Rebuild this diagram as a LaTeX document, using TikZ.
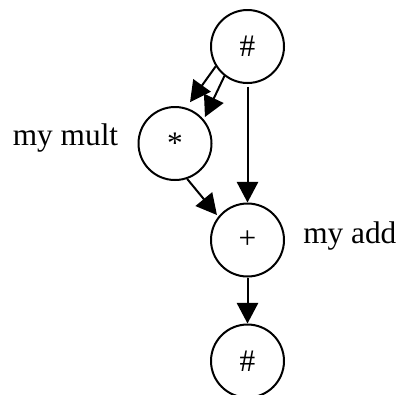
\documentclass[tikz,border=0pt]{standalone}
\usepackage{fontspec}
\setmainfont{Liberation Serif}
\usetikzlibrary{arrows.meta,calc}
\tikzset{
  opnode/.style={circle, draw, line width=1.5pt, minimum size=54.75pt, inner sep=0pt,
    font=\fontsize{23.5}{28}\selectfont},
  lbl/.style={font=\fontsize{23.5}{28}\selectfont, inner sep=0pt},
  edge/.style={line width=1.5pt, -{Triangle[length=15.5pt,width=16pt]}}
}
\begin{document}
\begin{tikzpicture}[x=0.75pt,y=-0.75pt]
  \clip (0,0) rectangle (399,394);
  \useasboundingbox (0,0) rectangle (399,394);
  % operator nodes
  \node[opnode] (top) at (247.5,46.5) {\#};
  \node[opnode] (mul) at (175,143.5) {*};
  \node[opnode] (add) at (247.5,240) {+};
  \node[opnode] (bot) at (247.5,361) {\#};
  % labels
  \node[lbl, anchor=base] (lmul) at (65.5,145) {my mult};
  \node[lbl, anchor=base west] (ladd) at (303,243) {my add};
  % edges
  \draw[edge] (top.212) -- ($(mul.center)+(70:33pt)$);
  \draw[edge] (top.232) -- ($(mul.center)+(41.5:30pt)$);
  \draw[edge, shorten <=2pt] (top.south) -- (add.north);
  \draw[edge] (mul.289) -- ($(add.center)+(140.7:29.6pt)$);
  \draw[edge] (add.south) -- (bot.north);
\end{tikzpicture}
\end{document}
